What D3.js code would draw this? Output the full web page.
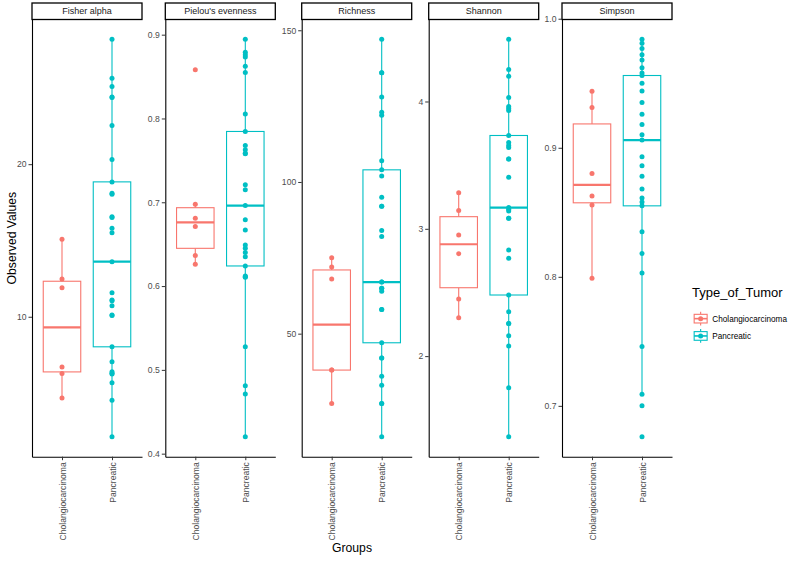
<!DOCTYPE html>
<html><head><meta charset="utf-8">
<script src="https://cdn.jsdelivr.net/npm/d3@7"></script>
<style>body{margin:0;background:#fff} svg{display:block} text{font-family:"Liberation Sans",Arial,Helvetica,sans-serif}</style>
</head><body><svg id="c" width="800" height="562"></svg>
<script>
// ---------- DATA ----------
const metrics = ["Fisher alpha", "Pielou's evenness", "Richness", "Shannon", "Simpson"];
const groups = ["Cholangiocarcinoma", "Pancreatic"];
const legendTitle = "Type_of_Tumor";

const fisherChol = [15.08, 12.47, 11.90, 6.70, 6.28, 4.68];
const fisherPanc = [28.18, 25.64, 25.09, 24.40, 24.37, 22.54, 20.30, 18.84, 18.10, 18.03, 16.56, 16.50, 15.80, 15.51, 13.61,
  11.57, 11.10, 11.05, 10.72, 10.11, 10.08, 8.03, 7.05, 6.39, 6.30, 6.24, 5.67, 4.53, 2.13];

const pielouChol = [0.8582, 0.6977, 0.6810, 0.6710, 0.6364, 0.6260];
const pielouPanc = [0.8944, 0.8789, 0.8761, 0.8733, 0.8622, 0.8550, 0.8052, 0.7845, 0.7678, 0.7626, 0.7586, 0.7580, 0.7208, 0.7148, 0.6961,
  0.6790, 0.6670, 0.6491, 0.6452, 0.6400, 0.6351, 0.6240, 0.6121, 0.6110, 0.6105, 0.5276, 0.4810, 0.4711, 0.4201];

const richChol = [75, 72, 68, 38, 38, 27];
const richPanc = [147, 136, 136, 128, 123, 122, 107, 104, 102, 95, 92, 92, 84, 82, 67,
  67, 65, 65, 64, 58, 58, 47, 42, 42, 36, 33, 27, 27, 16];

const shannonChol = [3.284, 3.143, 2.952, 2.805, 2.448, 2.302];
const shannonPanc = [4.488, 4.252, 4.199, 4.032, 3.961, 3.945, 3.929, 3.733, 3.678, 3.654, 3.638, 3.549, 3.549, 3.405, 3.167,
  3.153, 3.140, 3.083, 3.083, 2.834, 2.768, 2.480, 2.349, 2.257, 2.257, 2.160, 2.079, 1.751, 1.366];

const simpsonChol = [0.9438, 0.9313, 0.8800, 0.8626, 0.8556, 0.7989];
const simpsonPanc = [0.984, 0.981, 0.977, 0.972, 0.968, 0.962, 0.958, 0.956, 0.950, 0.944, 0.935, 0.926, 0.918, 0.910, 0.906,
  0.893, 0.886, 0.878, 0.868, 0.861, 0.858, 0.855, 0.835, 0.818, 0.803, 0.746, 0.709, 0.700, 0.676];

const fisherTicks = [10, 20];
const pielouTicks = [0.4, 0.5, 0.6, 0.7, 0.8, 0.9];
const richTicks = [50, 100, 150];
const shannonTicks = [2, 3, 4];
const simpsonTicks = [0.7, 0.8, 0.9, 1.0];
const tickFormats = ["d", ".1f", "d", "d", ".1f"];

const panelValues = [[fisherChol, fisherPanc], [pielouChol, pielouPanc], [richChol, richPanc], [shannonChol, shannonPanc], [simpsonChol, simpsonPanc]];
const panelTicks = [fisherTicks, pielouTicks, richTicks, shannonTicks, simpsonTicks];

// ---------- LAYOUT / STYLE ----------
const colors = ["#F8766D", "#00BFC4"];
const panelLefts = [32, 165.3, 301.7, 428.7, 562];
const panelW = 110, plotTop = 19.5, plotBottom = 456.7, stripTop = 3;
const tickFont = 8.6, stripFont = 9, legendFont = 8.2, titleFont = 12.2, legendTitleFont = 13;

const svg = d3.select("#c");
const color = d3.scaleOrdinal().domain(groups).range(colors);

function boxStats(vals) {
  const s = vals.slice().sort(d3.ascending);
  const q1 = d3.quantileSorted(s, 0.25), med = d3.quantileSorted(s, 0.5), q3 = d3.quantileSorted(s, 0.75);
  const iqr = q3 - q1;
  const lo = d3.min(s.filter(v => v >= q1 - 1.5 * iqr));
  const hi = d3.max(s.filter(v => v <= q3 + 1.5 * iqr));
  return {q1, med, q3, lo, hi};
}

metrics.forEach((m, i) => {
  const left = panelLefts[i];
  const g = svg.append("g");
  const all = panelValues[i][0].concat(panelValues[i][1]);
  const [mn, mx] = d3.extent(all);
  const pad = (mx - mn) * 0.05;
  const y = d3.scaleLinear().domain([mn - pad, mx + pad]).range([plotBottom, plotTop]);
  const x = d3.scalePoint().domain(groups).range([left, left + panelW]).padding(0.6);
  const bw = x.step() * 0.75;

  // strip
  g.append("rect").attr("x", left).attr("y", stripTop).attr("width", panelW).attr("height", plotTop - stripTop)
    .attr("fill", "white").attr("stroke", "#000").attr("stroke-width", 1.3);
  g.append("text").attr("x", left + panelW / 2).attr("y", (stripTop + plotTop) / 2).attr("dy", "0.35em")
    .attr("text-anchor", "middle").attr("font-size", stripFont).attr("fill", "#1A1A1A").text(m);

  // boxes
  groups.forEach((grp, j) => {
    const vals = panelValues[i][j];
    const st = boxStats(vals);
    const cx = x(grp), c = color(grp);
    const bg = g.append("g");
    bg.append("line").attr("x1", cx).attr("x2", cx).attr("y1", y(st.q3)).attr("y2", y(st.hi)).attr("stroke", c).attr("stroke-width", 1.1);
    bg.append("line").attr("x1", cx).attr("x2", cx).attr("y1", y(st.q1)).attr("y2", y(st.lo)).attr("stroke", c).attr("stroke-width", 1.1);
    bg.append("rect").attr("x", cx - bw / 2).attr("width", bw).attr("y", y(st.q3)).attr("height", y(st.q1) - y(st.q3))
      .attr("fill", "white").attr("stroke", c).attr("stroke-width", 1.1);
    bg.append("line").attr("x1", cx - bw / 2).attr("x2", cx + bw / 2).attr("y1", y(st.med)).attr("y2", y(st.med))
      .attr("stroke", c).attr("stroke-width", 2.2);
    bg.selectAll("circle").data(vals).join("circle")
      .attr("cx", cx).attr("cy", d => y(d)).attr("r", 2.5).attr("fill", c);
  });

  // axes
  const ay = g.append("g").attr("transform", `translate(${left},0)`)
    .call(d3.axisLeft(y).tickValues(panelTicks[i]).tickFormat(d3.format(tickFormats[i])).tickSize(3.5).tickSizeOuter(0).tickPadding(2));
  const ax = g.append("g").attr("transform", `translate(0,${plotBottom})`)
    .call(d3.axisBottom(x).tickSize(3.5).tickSizeOuter(0).tickPadding(2));
  [ay, ax].forEach(a => {
    a.select(".domain").attr("stroke", "#000").attr("stroke-width", 1.1);
    a.selectAll(".tick line").attr("stroke", "#333");
    a.selectAll(".tick text").attr("fill", "#4D4D4D").attr("font-size", tickFont).attr("font-family", null);
  });
  ax.selectAll(".tick text").attr("transform", "rotate(-90)").attr("text-anchor", "end")
    .attr("x", -5.5).attr("y", 0).attr("dy", "0.35em");
});

// axis titles
svg.append("text").attr("transform", `translate(12,${(plotTop + plotBottom) / 2}) rotate(-90)`)
  .attr("text-anchor", "middle").attr("dy", "0.35em").attr("font-size", titleFont).attr("fill", "#000").text("Observed Values");
svg.append("text").attr("x", (panelLefts[0] + panelLefts[4] + panelW) / 2).attr("y", 552)
  .attr("text-anchor", "middle").attr("font-size", titleFont).attr("fill", "#000").text("Groups");

// legend
const lg = svg.append("g").attr("transform", "translate(692,0)");
lg.append("text").attr("x", 0).attr("y", 297).attr("font-size", legendTitleFont).attr("fill", "#000").text(legendTitle);
groups.forEach((grp, j) => {
  const ky = 310 + j * 17.3, ks = 17.3, c = color(grp);
  const kg = lg.append("g").attr("transform", `translate(0,${ky})`);
  kg.append("line").attr("x1", ks / 2).attr("x2", ks / 2).attr("y1", ks * 0.1).attr("y2", ks * 0.25).attr("stroke", c).attr("stroke-width", 1.1);
  kg.append("line").attr("x1", ks / 2).attr("x2", ks / 2).attr("y1", ks * 0.75).attr("y2", ks * 0.9).attr("stroke", c).attr("stroke-width", 1.1);
  kg.append("rect").attr("x", ks * 0.125).attr("y", ks * 0.25).attr("width", ks * 0.75).attr("height", ks * 0.5)
    .attr("fill", "white").attr("stroke", c).attr("stroke-width", 1.1);
  kg.append("line").attr("x1", ks * 0.125).attr("x2", ks * 0.875).attr("y1", ks / 2).attr("y2", ks / 2).attr("stroke", c).attr("stroke-width", 1.6);
  kg.append("circle").attr("cx", ks / 2).attr("cy", ks / 2).attr("r", 2.5).attr("fill", c);
  kg.append("text").attr("x", ks + 3).attr("y", ks / 2).attr("dy", "0.35em").attr("font-size", legendFont).attr("fill", "#000").text(grp);
});
</script></body></html>
